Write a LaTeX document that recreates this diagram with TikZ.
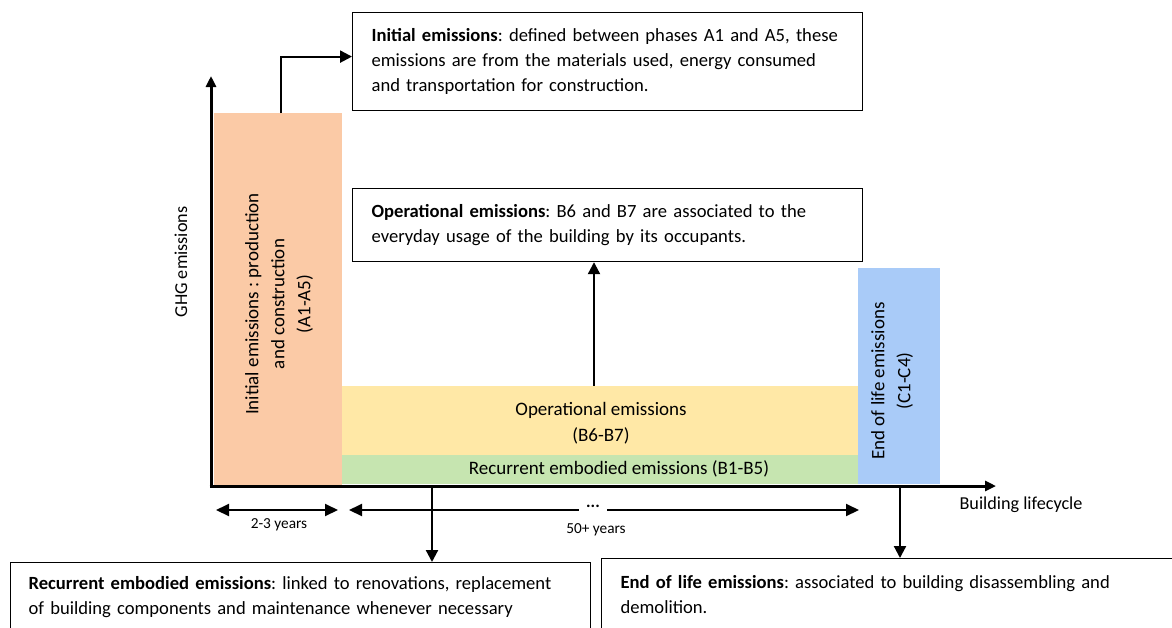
\documentclass[tikz,border=0pt]{standalone}
\usepackage{fontspec}
\setmainfont{Carlito}
\usetikzlibrary{arrows.meta}
\definecolor{initc}{HTML}{FBCAA6}
\definecolor{operc}{HTML}{FFE8A6}
\definecolor{recuc}{HTML}{C6E5B0}
\definecolor{endc}{HTML}{A9CBF8}
\frenchspacing
\begin{document}
\begin{tikzpicture}[x=1pt,y=-1pt,
  bar/.style={rectangle, inner sep=0pt, draw=none},
  callout/.style={rectangle, draw, line width=1.2pt, fill=white, align=left,
    font=\fontsize{18.6}{25}\selectfont, inner ysep=4pt},
  barlabel/.style={align=center, font=\fontsize{19}{26}\selectfont},
  axislabel/.style={font=\fontsize{18.2}{20}\selectfont},
  axisline/.style={line width=3pt, -{Triangle[length=11pt,width=10pt]}},
  arr/.style={line width=2.2pt, -{Triangle[length=12pt,width=12pt]}},
  span/.style={line width=2pt, {Triangle[length=13pt,width=12pt]}-{Triangle[length=13pt,width=12pt]}},
  spanend/.style={line width=2pt, -{Triangle[length=13pt,width=12pt]}},
  small/.style={font=\fontsize{15.3}{17}\selectfont}
]
\useasboundingbox (0,0) rectangle (1172,627);

% coloured emission blocks
\node[bar, fill=initc, minimum width=128pt, minimum height=372pt] (init) at (278,299) {};
\node[bar, fill=operc, minimum width=516pt, minimum height=69pt] (oper) at (600,420.5) {};
\node[bar, fill=recuc, minimum width=516pt, minimum height=29pt] (recu) at (600,469.5) {};
\node[bar, fill=endc, minimum width=82pt, minimum height=216pt] (endb) at (899,376) {};

% block labels
\node[barlabel, rotate=90] (initlab) at (279,304) {Initial emissions : production\\and construction\\(A1-A5)};
\node[barlabel] (operlab) at (601,423) {Operational emissions\\(B6-B7)};
\node[font=\fontsize{19}{22}\selectfont] (recular) at (619,469) {Recurrent embodied emissions (B1-B5)};
\node[barlabel, rotate=90] (endlab) at (892,381) {End of life emissions\\(C1-C4)};

% axes
\coordinate (origin) at (211,486);
\coordinate (ytop) at (211,76);
\coordinate (xend) at (996,486);
\draw[axisline] ([yshift=-1.5pt]origin) -- (ytop);
\draw[axisline] ([xshift=-1.5pt]origin) -- (xend);
\node[axislabel, rotate=90] (ylab) at (181,262) {GHG emissions};
\node[axislabel, anchor=west] (xlab) at (956,505) {Building lifecycle};

% explanatory boxes
\node[callout, anchor=north west, text width=472pt, inner xsep=19pt, minimum height=98pt] (topbox) at (352,12)
  {\textbf{Initial emissions}: defined between phases A1 and A5, these\\emissions are from the materials used, energy consumed\\and transportation for construction.};
\node[callout, anchor=north west, text width=472pt, inner xsep=19pt, minimum height=73pt] (midbox) at (352,188)
  {\textbf{Operational emissions}: B6 and B7 are associated to the\\everyday usage of the building by its occupants.};
\node[callout, anchor=north west, text width=544pt, inner xsep=18pt, minimum height=69pt] (recbox) at (10,562)
  {\textbf{Recurrent embodied emissions}: linked to renovations, replacement\\of building components and maintenance whenever necessary};
\node[callout, anchor=north west, text width=541pt, inner xsep=19pt, minimum height=72pt] (eolbox) at (601,558)
  {\textbf{End of life emissions}: associated to building disassembling and\\demolition.};

% connectors to the boxes
\coordinate (initout) at (281,113);
\draw[arr] (initout) |- ([yshift=5pt]topbox.west);
\draw[arr] ([xshift=-6pt]oper.north) -- ([xshift=-6pt]oper.north |- midbox.south);
\coordinate (recout) at (432,487);
\draw[arr] (recout) -- (recout |- recbox.north);
\coordinate (eolout) at (900,487);
\draw[arr] (eolout) -- (eolout |- eolbox.north);

% durations
\coordinate (s1a) at (216,510);
\coordinate (s1b) at (338,510);
\draw[span] (s1a) -- (s1b);
\node[small] (s1lab) at (279,525) {2-3 years};
\coordinate (s2a) at (349,510);
\coordinate (s2b) at (859,510);
\node[font=\fontsize{17}{17}\selectfont\bfseries] (dots) at (593,506) {...};
\draw[spanend] (dots.west |- s2a) ++(-4pt,0) -- (s2a);
\draw[spanend] (dots.east |- s2b) ++(4pt,0) -- (s2b);
\node[small] (s2lab) at (596,530) {50+ years};
\end{tikzpicture}
\end{document}
